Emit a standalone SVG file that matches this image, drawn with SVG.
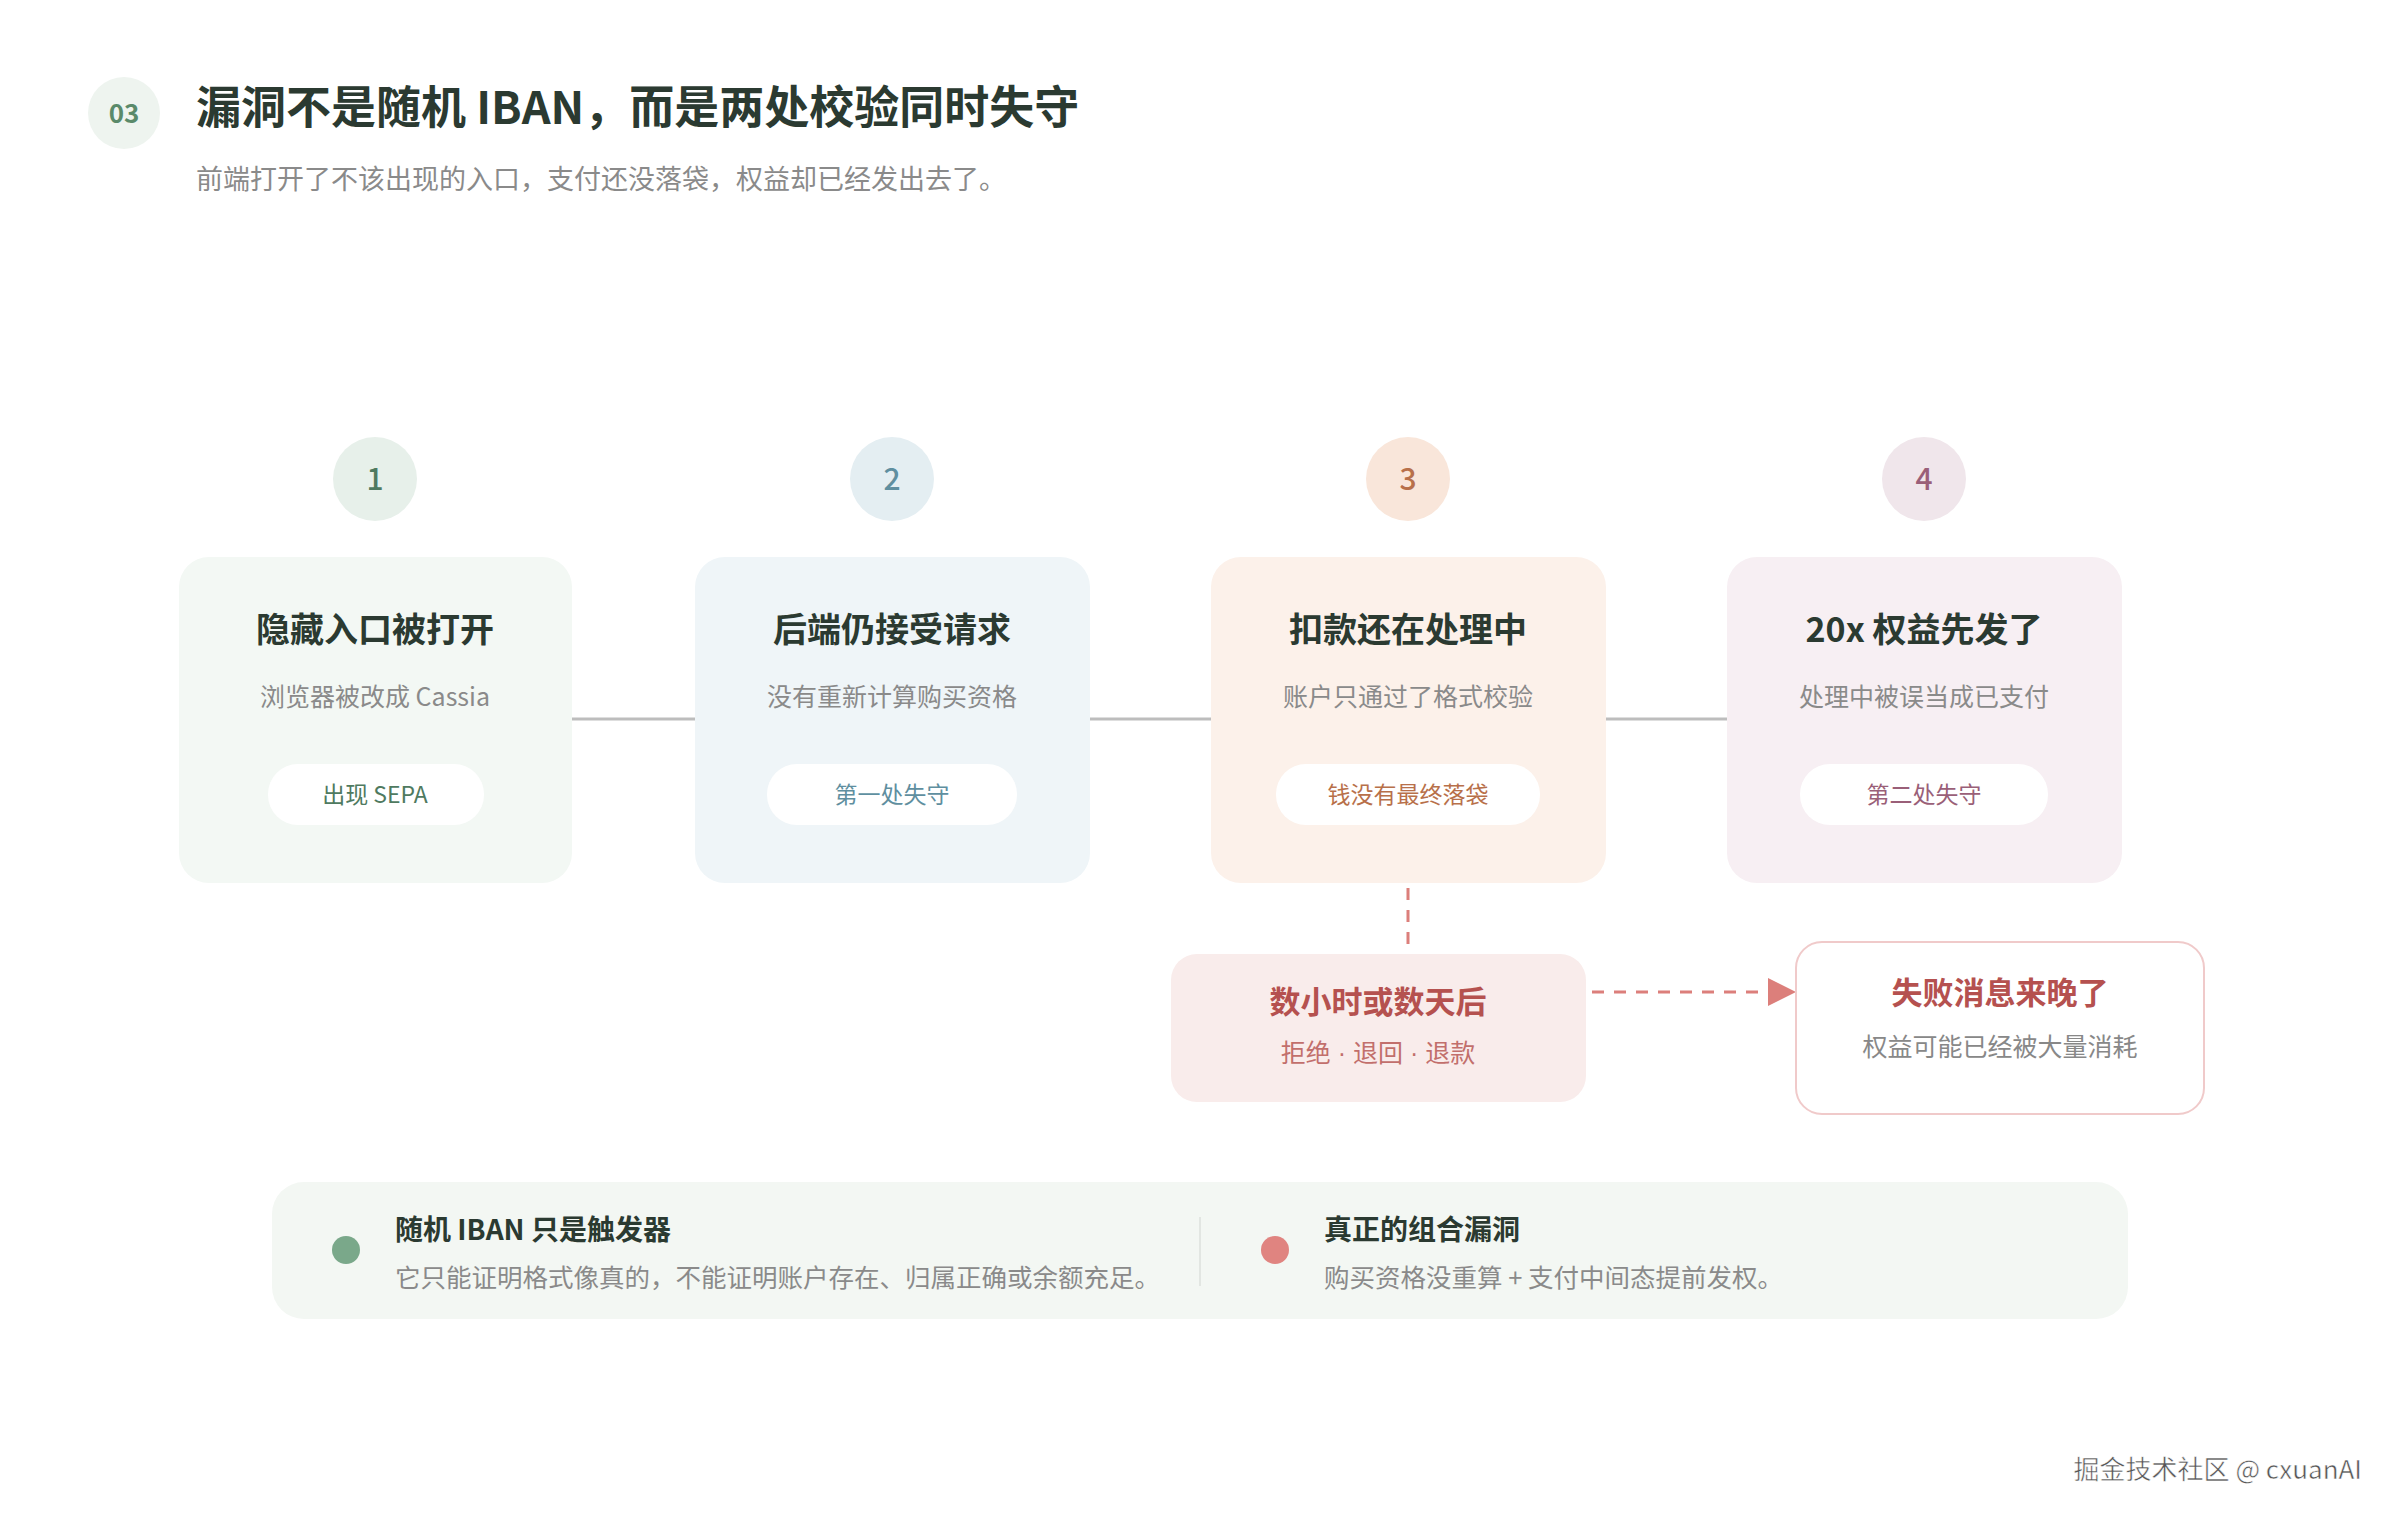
<svg xmlns="http://www.w3.org/2000/svg" width="2400" height="1520" viewBox="0 0 2400 1520">
<style>
text{font-family:"Noto Sans CJK SC","Noto Sans",sans-serif}
.t{font-weight:700;fill:#2b3a31;text-anchor:middle;font-size:34px}
.s{fill:#8a8a8a;text-anchor:middle;font-size:25px}
.p{text-anchor:middle;font-size:23px}
.n{text-anchor:middle;font-size:30px;font-weight:500}
.pill{fill:#fff}
.dot{font-family:"Liberation Sans",sans-serif}
</style>
<defs>
<marker id="ah" viewBox="0 0 10 10" refX="9" refY="5" markerWidth="9" markerHeight="9" markerUnits="userSpaceOnUse" orient="auto"><path d="M0,0L10,5L0,10z" fill="#dc7f7b"/></marker>
</defs>
<rect width="2400" height="1520" fill="#fff"/>
<g id="header">
<circle cx="124" cy="113" r="36" fill="#eef4ef"/>
<text x="124" y="123" text-anchor="middle" font-size="26" font-weight="600" fill="#5a8a6a">03</text>
<text x="196" y="124" font-size="45" font-weight="700" fill="#2b3a31">漏洞不是随机 IBAN，而是两处校验同时失守</text>
<text x="196" y="189" font-size="27" fill="#8a8a8a">前端打开了不该出现的入口，支付还没落袋，权益却已经发出去了。</text>
</g>
<g id="connectors">
<path d="M572 719H695M1090 719H1211M1606 719H1727" stroke="#bdbdbd" stroke-width="3"/>
<path d="M1408 888V949" stroke="#dc7f7b" stroke-width="3" stroke-dasharray="12 10"/>
<path d="M1592 992H1770" stroke="#dc7f7b" stroke-width="3" stroke-dasharray="12 10"/>
<path d="M1768 978L1796 992L1768 1006z" fill="#dc7f7b"/>
</g>
<g id="step1">
<circle cx="375" cy="479" r="42" fill="#e7f0ea"/>
<text x="375" y="490" class="n" fill="#4f7a60">1</text>
<rect x="179" y="557" width="393" height="326" rx="30" fill="#f3f8f4"/>
<text x="375" y="642" class="t">隐藏入口被打开</text>
<text x="375" y="706" class="s">浏览器被改成 Cassia</text>
<rect x="268" y="764" width="216" height="61" rx="30" class="pill"/>
<text x="375" y="803" class="p" fill="#4f7a60">出现 SEPA</text>
</g>
<g id="step2">
<circle cx="892" cy="479" r="42" fill="#e4eef2"/>
<text x="892" y="490" class="n" fill="#5f8fa0">2</text>
<rect x="695" y="557" width="395" height="326" rx="30" fill="#eff5f8"/>
<text x="892" y="642" class="t">后端仍接受请求</text>
<text x="892" y="706" class="s">没有重新计算购买资格</text>
<rect x="767" y="764" width="250" height="61" rx="30" class="pill"/>
<text x="892" y="803" class="p" fill="#5f8fa0">第一处失守</text>
</g>
<g id="step3">
<circle cx="1408" cy="479" r="42" fill="#f9e6da"/>
<text x="1408" y="490" class="n" fill="#b8704a">3</text>
<rect x="1211" y="557" width="395" height="326" rx="30" fill="#fcf1ea"/>
<text x="1408" y="642" class="t">扣款还在处理中</text>
<text x="1408" y="706" class="s">账户只通过了格式校验</text>
<rect x="1276" y="764" width="264" height="61" rx="30" class="pill"/>
<text x="1408" y="803" class="p" fill="#b8704a">钱没有最终落袋</text>
</g>
<g id="step4">
<circle cx="1924" cy="479" r="42" fill="#f0e6eb"/>
<text x="1924" y="490" class="n" fill="#9a5f78">4</text>
<rect x="1727" y="557" width="395" height="326" rx="30" fill="#f7eff3"/>
<text x="1924" y="642" class="t">20x 权益先发了</text>
<text x="1924" y="706" class="s">处理中被误当成已支付</text>
<rect x="1800" y="764" width="248" height="61" rx="30" class="pill"/>
<text x="1924" y="803" class="p" fill="#9a5f78">第二处失守</text>
</g>
<g id="delay">
<rect x="1171" y="954" width="415" height="148" rx="26" fill="#f9eceb"/>
<text x="1378" y="1013" text-anchor="middle" font-size="31" font-weight="700" fill="#b5514f">数小时或数天后</text>
<text x="1378" y="1062" text-anchor="middle" font-size="25" fill="#c26f6c">拒绝<tspan class="dot"> · </tspan>退回<tspan class="dot"> · </tspan>退款</text>
</g>
<g id="late">
<rect x="1796" y="942" width="408" height="172" rx="26" fill="#fff" stroke="#f0caca" stroke-width="2"/>
<text x="2000" y="1004" text-anchor="middle" font-size="31" font-weight="700" fill="#b5514f">失败消息来晚了</text>
<text x="2000" y="1056" text-anchor="middle" font-size="25" fill="#888">权益可能已经被大量消耗</text>
</g>
<g id="summary">
<rect x="272" y="1182" width="1856" height="137" rx="32" fill="#f3f7f3"/>
<circle cx="346" cy="1250" r="14" fill="#7aa88a"/>
<text x="395" y="1240" font-size="28" font-weight="700" fill="#2b3a31">随机 IBAN 只是触发器</text>
<text x="395" y="1287" font-size="25.5" fill="#8a8a8a">它只能证明格式像真的，不能证明账户存在、归属正确或余额充足。</text>
<line x1="1200" y1="1217" x2="1200" y2="1286" stroke="#e2e6e2" stroke-width="2"/>
<circle cx="1275" cy="1250" r="14" fill="#e08480"/>
<text x="1324" y="1240" font-size="28" font-weight="700" fill="#2b3a31">真正的组合漏洞</text>
<text x="1324" y="1287" font-size="25.5" fill="#8a8a8a">购买资格没重算 + 支付中间态提前发权。</text>
</g>
<text x="2362" y="1479" text-anchor="end" font-size="26" fill="#555" stroke="#fff" stroke-width="0.5">掘金技术社区 @ cxuanAI</text>
</svg>
